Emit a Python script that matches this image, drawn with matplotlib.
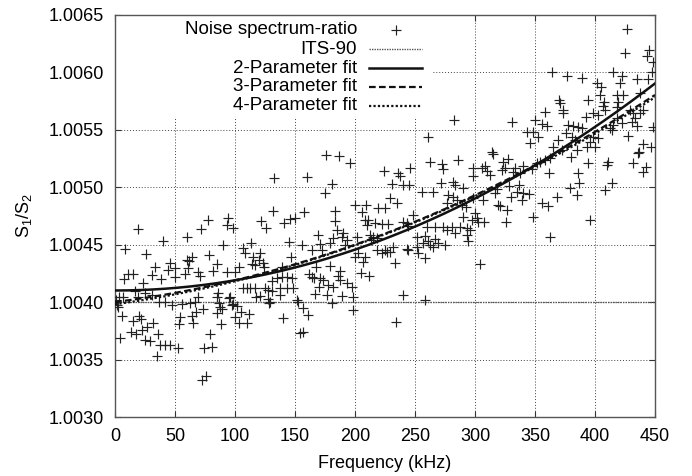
import numpy as np
import matplotlib
matplotlib.use('Agg')
import matplotlib.pyplot as plt
from matplotlib.patches import Rectangle
from matplotlib.ticker import FormatStrFormatter

plt.rcParams['font.family'] = ['Liberation Sans', 'DejaVu Sans']
plt.rcParams['mathtext.default'] = 'regular'

# measured noise spectrum ratio, read off the picture (kHz, S1/S2)
# 0 - 150 kHz
freq_low = [77.3, 94.4, 93.1, 98.6, 19.4, 71.4, 60.3, 40.3, 90.3, 8.3,
            25.8, 78.6, 60.3, 63.9, 61.9, 45.8, 50.0, 33.3, 84.8, 7.3,
            11.1, 14.8, 30.6, 38.1, 44.4, 50.0, 58.3, 69.4, 70.8, 81.9,
            93.1, 100.0, 23.6, 84.8, 95.8, 69.4, 3.6, 6.9, 18.9, 25.0,
            30.6, 47.3, 55.6, 86.9, 98.6, 60.8, 103.1, 0.8, 2.5, 16.9,
            36.4, 41.9, 62.8, 66.4, 94.8, 85.8, 87.8, 1.9, 5.6, 4.2,
            14.8, 20.3, 21.4, 13.1, 17.5, 22.3, 26.9, 31.9, 25.0, 29.2,
            36.1, 37.5, 41.7, 45.8, 35.3, 52.8, 53.6, 54.2, 63.9, 67.5,
            73.6, 65.3, 79.2, 74.4, 80.6, 72.3, 75.8, 85.3, 88.9, 88.3,
            97.3, 101.4, 100.0, 105.0, 103.6,
            132.8, 131.9, 121.7, 125.6, 141.1, 145.8, 150.0, 113.1, 106.9, 108.3,
            145.3, 115.3, 120.8, 120.3, 123.6, 124.2, 116.7, 113.9, 146.4, 138.9,
            130.6, 134.8, 138.9, 143.1, 147.3, 148.1, 106.9, 109.8, 112.5, 116.7,
            125.0, 127.8, 130.6, 137.5, 143.1, 117.5, 120.8, 127.8, 129.2, 137.5,
            151.9, 140.3, 109.8, 111.9, 128.6, 152.3]
ratio_low = [1.004713, 1.004728, 1.004670, 1.004646, 1.004632, 1.004635, 1.004563, 1.004533, 1.004496, 1.004461,
             1.004417, 1.004406, 1.004365, 1.004394, 1.004357, 1.004337, 1.004293, 1.004302, 1.004330, 1.004197,
             1.004243, 1.004243, 1.004235, 1.004197, 1.004278, 1.004220, 1.004243, 1.004263, 1.004226, 1.004270,
             1.004263, 1.004263, 1.004163, 1.004046, 1.004046, 1.004046, 1.004046, 1.004046, 1.004046, 1.004076,
             1.004061, 1.003974, 1.003983, 1.003989, 1.003983, 1.004293, 1.004307, 1.004017, 1.003959, 1.004096,
             1.004003, 1.004003, 1.003994, 1.004003, 1.004032, 1.004076, 1.003959, 1.003974, 1.003878, 1.003684,
             1.003837, 1.003878, 1.003850, 1.003737, 1.003719, 1.003757, 1.003785, 1.003820, 1.003670, 1.003661,
             1.003722, 1.003626, 1.003626, 1.003626, 1.003533, 1.003603, 1.003809, 1.003867, 1.003878, 1.003910,
             1.003937, 1.003820, 1.003719, 1.003597, 1.003611, 1.003322, 1.003356, 1.003902, 1.003937, 1.003809,
             1.003974, 1.003965, 1.003872, 1.003916, 1.003815,
             1.005081, 1.004791, 1.004704, 1.004646, 1.004684, 1.004722, 1.004733, 1.004516, 1.004467, 1.004423,
             1.004524, 1.004394, 1.004423, 1.004365, 1.004342, 1.004307, 1.004322, 1.004330, 1.004394, 1.004307,
             1.004185, 1.004206, 1.004215, 1.004220, 1.004206, 1.004119, 1.004119, 1.004119, 1.004119, 1.004119,
             1.004119, 1.004104, 1.004098, 1.004119, 1.004119, 1.004046, 1.004052, 1.004023, 1.004003, 1.004061,
             1.004017, 1.003858, 1.003820, 1.003893, 1.003994, 1.004003]

# 150 - 320 kHz
freq_mid = [175.8, 186.9, 195.8, 159.8, 180.6, 175.0, 157.5, 183.3, 183.3, 185.3,
            200.0, 209.2, 205.6, 208.3, 211.1, 209.8, 216.7, 222.3, 227.8, 219.4,
            225.0, 229.2, 235.3, 224.4, 230.6, 236.1, 237.5, 239.8, 245.3, 245.8,
            262.5, 272.3, 273.6, 286.1, 298.6, 305.6, 308.3, 309.8, 312.5, 298.1,
            313.9, 314.8, 255.6, 265.3, 271.7, 281.4, 283.3, 290.3, 277.3, 281.9,
            276.4, 284.8, 288.9, 292.5, 298.6, 306.4, 319.4, 289.8, 300.0, 301.4,
            297.3, 302.8, 307.5, 248.6, 240.3, 243.1, 244.4, 259.8, 266.7, 273.6,
            280.6, 287.5, 293.1, 295.8, 283.3, 293.1, 276.4, 258.3, 266.7, 261.1,
            251.9, 256.9, 262.5, 265.3, 269.4, 275.0, 294.4, 304.2, 251.4, 252.8,
            243.1, 244.4, 258.3, 225.0, 229.2, 231.9, 233.3, 212.5, 215.3, 218.1,
            213.1, 218.1, 222.3, 226.4, 206.9, 208.3, 211.9, 205.0, 200.0, 202.8,
            193.1, 191.7, 190.3, 188.9, 181.9, 179.2, 172.3, 163.9, 169.4, 170.8,
            155.6, 167.5, 179.2, 187.5, 186.1, 161.9, 163.9, 165.8, 170.8, 173.6,
            177.8, 181.9, 187.5, 193.1, 197.3, 170.3, 176.4, 188.9, 180.6, 240.3,
            258.3, 156.9, 161.1, 154.2, 156.9, 198.1, 234.2, 282.5, 260.6, 201.4,
            198.6, 166.7]
ratio_mid = [1.005278, 1.005272, 1.005211, 1.005090, 1.005024, 1.004950, 1.004785, 1.004794, 1.004707, 1.004626,
             1.004844, 1.004844, 1.004785, 1.004713, 1.004713, 1.004670, 1.004684, 1.004678, 1.004678, 1.004815,
             1.004815, 1.004902, 1.004864, 1.005142, 1.005024, 1.005124, 1.005096, 1.005017, 1.005017, 1.005163,
             1.005220, 1.005200, 1.005157, 1.005235, 1.005163, 1.005163, 1.005185, 1.005142, 1.005104, 1.005096,
             1.005307, 1.005287, 1.004959, 1.004959, 1.005032, 1.005046, 1.005017, 1.004989, 1.004930, 1.004916,
             1.004858, 1.004887, 1.004844, 1.004829, 1.004902, 1.004887, 1.004844, 1.004742, 1.004771, 1.004728,
             1.004713, 1.004698, 1.004698, 1.004757, 1.004698, 1.004684, 1.004661, 1.004655, 1.004650, 1.004650,
             1.004650, 1.004650, 1.004641, 1.004626, 1.004597, 1.004583, 1.004626, 1.004574, 1.004545, 1.004533,
             1.004563, 1.004510, 1.004496, 1.004481, 1.004510, 1.004496, 1.004533, 1.004330, 1.004476, 1.004429,
             1.004458, 1.004452, 1.004380, 1.004452, 1.004437, 1.004481, 1.004337, 1.004583, 1.004563, 1.004554,
             1.004539, 1.004452, 1.004423, 1.004437, 1.004350, 1.004389, 1.004226, 1.004255, 1.004389, 1.004423,
             1.004539, 1.004496, 1.004597, 1.004568, 1.004554, 1.004510, 1.004452, 1.004452, 1.004583, 1.004502,
             1.004496, 1.004307, 1.004313, 1.004272, 1.004226, 1.004243, 1.004220, 1.004206, 1.004206, 1.004191,
             1.004148, 1.004133, 1.004191, 1.004163, 1.004133, 1.004133, 1.004061, 1.004052, 1.003989, 1.004061,
             1.004017, 1.003945, 1.003887, 1.003728, 1.003742, 1.003930, 1.003829, 1.005583, 1.005437, 1.004568,
             1.004046, 1.004070]

# 320 - 450 kHz
freq_high = [426.4, 425.0, 445.3, 443.6, 448.6, 447.3, 363.9, 376.9, 388.9, 415.3,
             422.3, 434.8, 444.4, 420.8, 423.6, 418.1, 401.4, 404.8, 404.2, 407.5,
             406.4, 408.3, 419.4, 418.1, 437.5, 394.4, 370.3, 370.8, 358.3, 373.6,
             373.1, 392.5, 398.6, 402.8, 440.3, 437.5, 429.2, 431.9, 433.3, 430.6,
             418.1, 422.3, 330.6, 350.0, 355.6, 359.8, 343.1, 348.6, 352.8, 345.8,
             377.8, 381.9, 386.1, 388.9, 375.8, 380.6, 369.4, 365.3, 372.3, 383.3,
             384.8, 393.1, 395.8, 400.0, 398.6, 402.8, 412.5, 415.3, 413.9, 427.8,
             434.8, 439.8, 446.4, 436.9, 448.6,
             327.8, 323.1, 322.3, 325.0, 333.3, 331.9, 337.5, 340.3, 347.3, 351.4,
             354.2, 358.3, 362.5, 361.9, 328.6, 336.9, 318.1, 316.7, 334.8, 340.3,
             345.3, 338.9, 329.8, 320.8, 326.4, 325.8, 355.6, 361.1, 368.1, 348.1,
             362.5, 379.2, 384.8, 386.9, 386.1, 379.8, 394.4, 395.8, 411.1, 410.3,
             413.9, 408.3, 431.4, 440.3, 442.5, 436.1]
ratio_high = [1.006371, 1.006168, 1.006191, 1.006139, 1.006090, 1.006003, 1.006003, 1.005965, 1.005945, 1.006003,
              1.005965, 1.005937, 1.005937, 1.005902, 1.005800, 1.005800, 1.005902, 1.005867, 1.005800, 1.005742,
              1.005704, 1.005670, 1.005742, 1.005698, 1.005820, 1.005757, 1.005757, 1.005733, 1.005655, 1.005670,
              1.005641, 1.005611, 1.005641, 1.005626, 1.005670, 1.005641, 1.005670, 1.005641, 1.005597, 1.005568,
              1.005597, 1.005554, 1.005568, 1.005583, 1.005548, 1.005530, 1.005481, 1.005481, 1.005437, 1.005380,
              1.005539, 1.005530, 1.005524, 1.005510, 1.005472, 1.005437, 1.005409, 1.005350, 1.005322, 1.005409,
              1.005322, 1.005350, 1.005394, 1.005350, 1.005437, 1.005424, 1.005510, 1.005539, 1.005496, 1.005444,
              1.005530, 1.005374, 1.005350, 1.005307, 1.005524,
              1.005241, 1.005220, 1.005148, 1.005163, 1.005163, 1.005133, 1.005119, 1.005183, 1.005154, 1.005206,
              1.005220, 1.005235, 1.005250, 1.005119, 1.005009, 1.005017, 1.004980, 1.004945, 1.004959, 1.004950,
              1.004939, 1.004887, 1.004910, 1.004835, 1.004800, 1.004698, 1.004864, 1.004835, 1.004916, 1.004742,
              1.004563, 1.004989, 1.004930, 1.005032, 1.005124, 1.005264, 1.005211, 1.004713, 1.005220, 1.005191,
              1.005032, 1.004974, 1.005211, 1.005133, 1.005177, 1.005298]

freq = np.array(freq_low + freq_mid + freq_high)
ratio = np.array(ratio_low + ratio_mid + ratio_high)

# ITS-90 value and fitted models
its90_ratio = 1.00400
fit2 = [1.00410, 0.0, 8.89e-9]              # a + c f^2
fit3 = [1.00400, 1.282e-6, 6.04e-9]         # a + b f + c f^2
fit4 = [1.00398, 1.45e-6, 5.5e-9, 3.7e-13]  # a + b f + c f^2 + d f^3

f = np.linspace(0, 450, 300)
y2 = np.polyval(fit2[::-1], f)
y3 = np.polyval(fit3[::-1], f)
y4 = np.polyval(fit4[::-1], f)

fig = plt.figure(figsize=(6.92, 4.76), dpi=100)
ax = fig.add_axes([115/692, 1 - 417/476, 540/692, 402.5/476])

ax.set_axisbelow(True)
ax.grid(True, linestyle=(0, (1, 2)), color='#444444', lw=0.7)
# legend area hides the grid
ax.add_patch(Rectangle((0, 0.745), 0.589, 0.26, transform=ax.transAxes,
                       facecolor='white', edgecolor='none', zorder=1))

its_style = dict(color='#555555', lw=1.0, ls=(0, (1, 0.8)))
ax.axhline(its90_ratio, zorder=2, **its_style)
ax.plot(freq, ratio, '+', color='#222222', ms=6.5, mew=0.85, ls='none', zorder=3)
ax.plot(f, y2, color='#111111', lw=1.8, zorder=4)
ax.plot(f, y3, color='#111111', lw=1.6, ls=(0, (3, 1.5)), zorder=4)
ax.plot(f, y4, color='#111111', lw=1.6, ls=(0, (1, 1)), zorder=4)

ax.set_xlim(0, 450)
ax.set_ylim(1.0030, 1.0065)
ax.set_xticks(np.arange(0, 451, 50))
ax.set_yticks(np.arange(1.0030, 1.00651, 0.0005))
ax.yaxis.set_major_formatter(FormatStrFormatter('%.4f'))
ax.tick_params(direction='in', top=True, right=True, length=4, width=0.8,
               labelsize=13, pad=8, color='#333333')
for s in ax.spines.values():
    s.set_color('#555555')
    s.set_linewidth(1.0)

ax.set_xlabel('Frequency (kHz)', fontsize=13)
ax.set_ylabel('S$_1$/S$_2$', fontsize=13)
ax.xaxis.set_label_coords(0.5, -0.095)
ax.yaxis.set_label_coords(-0.15, 0.5)

# gnuplot style key: text right-aligned, sample to the right
rows = [0.9615, 0.914, 0.867, 0.820, 0.7727]
labels = ['Noise spectrum-ratio', 'ITS-90', '2-Parameter fit',
          '3-Parameter fit', '4-Parameter fit']
for yy, lab in zip(rows, labels):
    ax.text(0.448, yy, lab, ha='right', va='center', fontsize=13.5,
            transform=ax.transAxes, zorder=5)
kx = [0.470, 0.5685]
ax.plot([0.52], [rows[0]], '+', color='#222222', ms=6.5, mew=0.85, transform=ax.transAxes, zorder=5)
ax.plot(kx, [rows[1]] * 2, transform=ax.transAxes, zorder=5, **its_style)
ax.plot(kx, [rows[2]] * 2, color='#111111', lw=1.8, transform=ax.transAxes, zorder=5)
ax.plot(kx, [rows[3]] * 2, color='#111111', lw=1.6, ls=(0, (3, 1.5)), transform=ax.transAxes, zorder=5)
ax.plot(kx, [rows[4]] * 2, color='#111111', lw=1.6, ls=(0, (1, 1)), transform=ax.transAxes, zorder=5)

fig.savefig('out.png', dpi=100)
